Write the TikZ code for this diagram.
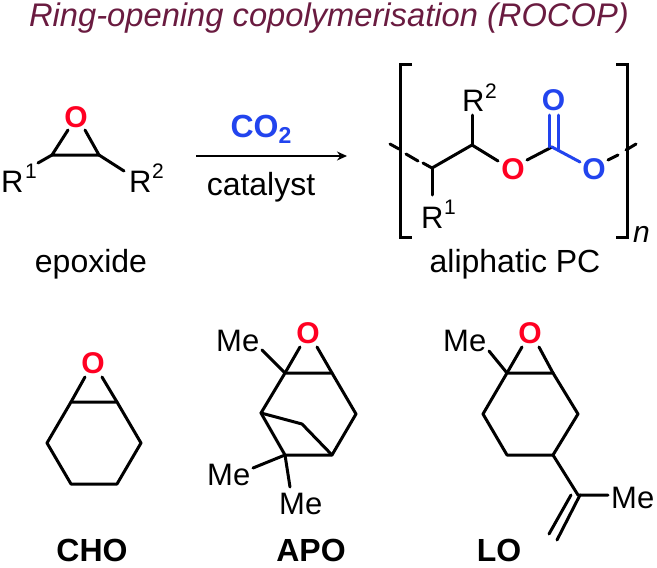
\documentclass[tikz,border=0pt]{standalone}
\usepackage{fontspec}
\setmainfont{Liberation Sans}
\usetikzlibrary{arrows.meta}
\definecolor{titlec}{HTML}{6A1B40}
\definecolor{oblue}{HTML}{2244EE}
\definecolor{ored}{HTML}{FF0022}
\newcommand{\fs}[1]{\fontsize{#1}{#1}\selectfont}
\tikzset{
  x=1pt,y=-1pt,
  bond/.style={line width=3pt,line cap=round,line join=round,black},
  bluebond/.style={bond,draw=oblue},
  lab/.style={anchor=base west,inner sep=0pt,font=\fs{31}},
  atom/.style={anchor=center,inner sep=0pt,font=\fs{30}\bfseries},
  redo/.style={atom,text=ored},
  blueo/.style={atom,text=oblue},
  caption/.style={anchor=base,inner sep=0pt,font=\fs{32}},
  bcaption/.style={anchor=base,inner sep=0pt,font=\fs{32}\bfseries},
  sups/.style={anchor=base west,inner sep=0pt,font=\fs{21}},
}
\begin{document}
\begin{tikzpicture}
\useasboundingbox (0,0) rectangle (657,568);
\fill[white] (0,0) rectangle (657,568);
% title
\node[anchor=base,inner sep=0pt,text=titlec,font=\fs{32.7}\itshape] (title) at (329,26) {Ring-opening copolymerisation (ROCOP)};
% epoxide
\node[redo] (eO) at (76,117) {O};
\coordinate (e1) at (52,155); \coordinate (e2) at (99,155);
\coordinate (eOa) at (68,130); \coordinate (eOb) at (85,130);
\coordinate (eR1) at (38,163); \coordinate (eR2) at (124,171);
\draw[bond] (eOa)--(e1)--(e2)--(eOb);
\draw[bond] (e1)--(eR1);
\draw[bond] (e2)--(eR2);
\node[lab] (r1a) at (1,192) {R};
\node[sups] (r1b) at (25,178) {1};
\node[lab] (r2a) at (129,192) {R};
\node[sups] (r2b) at (152,178) {2};
\node[caption] (epox) at (91,272) {epoxide};
% arrow
\coordinate (arrA) at (196,156); \coordinate (arrB) at (347,156);
\draw[line width=1.5pt,-{Stealth[length=10pt,width=9pt]}] (arrA)--(arrB);
\node[anchor=base,inner sep=0pt,font=\fs{32}\bfseries,text=oblue] (co2) at (261,137) {CO\raisebox{-0.2em}{\fs{23}2}};
\node[caption] (cat) at (261,195) {catalyst};
% polymer
\coordinate (bl1) at (412,64); \coordinate (bl2) at (400,64); \coordinate (bl3) at (400,237); \coordinate (bl4) at (412,237);
\coordinate (br1) at (616,64); \coordinate (br2) at (627,64); \coordinate (br3) at (627,237); \coordinate (br4) at (616,237);
\draw[bond,line cap=butt,line join=miter] (bl1)--(bl2)--(bl3)--(bl4);
\draw[bond,line cap=butt,line join=miter] (br1)--(br2)--(br3)--(br4);
\coordinate (s1) at (390,144); \coordinate (s2) at (399,149);
\coordinate (s3) at (406,154); \coordinate (s4) at (418,161);
\coordinate (c1) at (423,163); \coordinate (c1b) at (432,168);
\coordinate (rd1) at (432,195);
\coordinate (c2) at (472,145); \coordinate (ru2) at (472,115);
\coordinate (oa) at (498,161); \coordinate (ob) at (527,160);
\coordinate (c3) at (552,147); \coordinate (oc) at (580,162);
\coordinate (d1a) at (549,115); \coordinate (d1b) at (549,147);
\coordinate (d2a) at (558,115); \coordinate (d2b) at (558,149);
\coordinate (e3) at (608,160); \coordinate (e4) at (618,155);
\coordinate (e5) at (626,150); \coordinate (e6) at (636,144);
\draw[bond] (s1)--(s2);
\draw[bond] (s3)--(s4);
\draw[bond] (c1)--(c1b)--(c2)--(oa);
\draw[bond] (c1b)--(rd1);
\draw[bond] (c2)--(ru2);
\draw[bond] (ob)--(c3);
\draw[bluebond] (c3)--(oc);
\draw[bluebond] (d1a)--(d1b);
\draw[bluebond] (d2a)--(d2b);
\draw[bond] (e3)--(e4);
\draw[bond] (e5)--(e6);
\node[redo] (pO1) at (513,169) {O};
\node[blueo] (pO2) at (594,169) {O};
\node[blueo] (pO3) at (553.5,100) {O};
\node[lab] (pr2a) at (462,111) {R};
\node[sups] (pr2b) at (485,98) {2};
\node[lab] (pr1a) at (421,228) {R};
\node[sups] (pr1b) at (444,214) {1};
\node[anchor=base west,inner sep=0pt,font=\fs{30}\itshape] (nn) at (633,242) {n};
\node[caption] (pc) at (515,272) {aliphatic PC};
% CHO
\node[redo] (cO) at (93,363) {O};
\coordinate (ca) at (71,402); \coordinate (cb) at (117,402);
\coordinate (cc) at (141,443); \coordinate (cd) at (117,484);
\coordinate (ce) at (71,484); \coordinate (cf) at (47,443);
\coordinate (cOa) at (85,377); \coordinate (cOb) at (102,377);
\draw[bond] (ca)--(cb)--(cc)--(cd)--(ce)--(cf)--cycle;
\draw[bond] (ca)--(cOa);
\draw[bond] (cb)--(cOb);
\node[bcaption] (cho) at (92,561) {CHO};
% APO
\node[redo] (aO) at (308,333) {O};
\coordinate (a1) at (285,373); \coordinate (a2) at (332,373);
\coordinate (a3) at (261,413); \coordinate (a4) at (285,455);
\coordinate (a5) at (332,455); \coordinate (a6) at (356,414);
\coordinate (a7) at (302,424);
\coordinate (aOa) at (300,347); \coordinate (aOb) at (317,347);
\coordinate (aMe1) at (262,350); \coordinate (aMe2) at (253,468); \coordinate (aMe3) at (290,487);
\draw[bond] (a1)--(a2)--(a6)--(a5)--(a4)--(a3)--cycle;
\draw[bond] (a3)--(a7)--(a5);
\draw[bond] (a1)--(aOa);
\draw[bond] (a2)--(aOb);
\draw[bond] (a1)--(aMe1);
\draw[bond] (a4)--(aMe2);
\draw[bond] (a4)--(aMe3);
\node[lab] (am1) at (216,351) {Me};
\node[lab] (am2) at (207,485) {Me};
\node[lab] (am3) at (279,514) {Me};
\node[bcaption] (apo) at (311,561) {APO};
% LO
\node[redo] (lO) at (530,333) {O};
\coordinate (l1) at (507,373); \coordinate (l2) at (553,373);
\coordinate (l3) at (578,414); \coordinate (l4) at (553,455);
\coordinate (l5) at (507,455); \coordinate (l6) at (483,414);
\coordinate (lOa) at (522,347); \coordinate (lOb) at (539,347);
\coordinate (lMe) at (489,351);
\coordinate (l7) at (578,495); \coordinate (lMe2) at (608,495);
\coordinate (dA1) at (571,495); \coordinate (dA2) at (549,534);
\coordinate (dB1) at (580,495); \coordinate (dB2) at (557,540);
\draw[bond] (l1)--(l2)--(l3)--(l4)--(l5)--(l6)--cycle;
\draw[bond] (l1)--(lOa);
\draw[bond] (l2)--(lOb);
\draw[bond] (l1)--(lMe);
\draw[bond] (l4)--(l7)--(lMe2);
\draw[bond] (dA1)--(dA2);
\draw[bond] (dB1)--(dB2);
\node[lab] (lm1) at (443,351) {Me};
\node[lab] (lm2) at (611,508) {Me};
\node[bcaption] (lo) at (499,561) {LO};
\end{tikzpicture}
\end{document}
